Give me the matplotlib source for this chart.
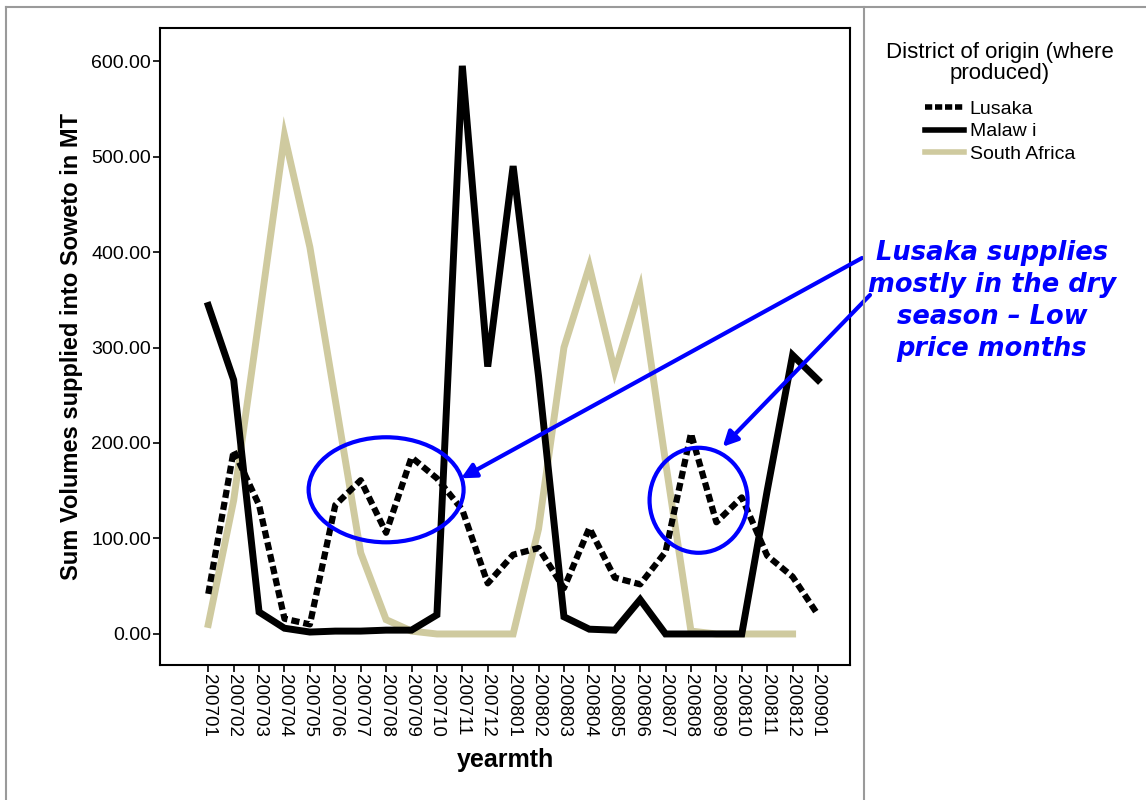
import matplotlib.pyplot as plt
from matplotlib.patches import Ellipse
from matplotlib.lines import Line2D

# monthly volumes (MT) by district of origin
months = ['200701', '200702', '200703', '200704', '200705', '200706', '200707',
          '200708', '200709', '200710', '200711', '200712', '200801', '200802',
          '200803', '200804', '200805', '200806', '200807', '200808', '200809',
          '200810', '200811', '200812', '200901']
lusaka = [42, 192, 135, 16, 10, 135, 161, 106, 185, 163, 130, 53, 83, 90,
          48, 111, 59, 52, 86, 210, 117, 143, 82, 60, 20]
malawi = [344, 266, 23, 6, 2, 3, 3, 4, 4, 20, 595, 280, 490, 270,
          18, 5, 4, 36, 0, 0, 0, 0, 150, 292, 266]
south_africa = [10, 140, 330, 522, 405, 245, 85, 15, 3, 0, 0, 0, 0, 110,
                300, 385, 275, 362, 180, 3, 0, 0, 0, 0]
yticks = [0, 100, 200, 300, 400, 500, 600]

plt.rcParams['font.family'] = ['Liberation Sans', 'DejaVu Sans']

fig = plt.figure(figsize=(11.46, 8), dpi=100)
ax = fig.add_axes([160 / 1146, 135 / 800, 690 / 1146, 637 / 800])

x = list(range(len(months)))
khaki = '#CFCA9F'
ax.plot(x, lusaka, color='black', lw=4.5, linestyle=(0, (1.3, 0.65)),
        dash_capstyle='butt', solid_joinstyle='miter', label='Lusaka', zorder=3)
ax.plot(x, malawi, color='black', lw=5, solid_joinstyle='miter',
        label='Malaw i', zorder=2)
ax.plot(x[:len(south_africa)], south_africa, color=khaki, lw=5,
        solid_joinstyle='miter', label='South Africa', zorder=1)

ax.set_xlim(-1.9, 25.26)
ax.set_ylim(-32.5, 634.6)
ax.set_xticks(x)
ax.set_xticklabels(months, rotation=270, fontsize=13.5)
ax.set_yticks(yticks)
ax.set_yticklabels(['%.2f' % v for v in yticks], fontsize=14)
ax.tick_params(direction='out', length=5, width=1.2, color='black', pad=1.5)
for s in ax.spines.values():
    s.set_linewidth(1.5)
    s.set_color('black')

ax.set_ylabel('Sum Volumes supplied into Soweto in MT', fontsize=17,
              fontweight='bold', labelpad=6)
ax.set_xlabel('yearmth', fontsize=18, fontweight='bold', labelpad=8)

# legend outside the plot area on the right
handles = [Line2D([], [], color='black', lw=4, linestyle=(0, (1.3, 0.5))),
           Line2D([], [], color='black', lw=4),
           Line2D([], [], color=khaki, lw=4)]
leg = fig.legend(handles, ['Lusaka', 'Malaw i', 'South Africa'],
                 title='District of origin (where\nproduced)',
                 loc='upper center', bbox_to_anchor=(1000 / 1146, 1 - 28 / 800),
                 frameon=False, fontsize=14, title_fontsize=16,
                 handlelength=2.0, handletextpad=0.3, labelspacing=0.25,
                 borderpad=0.2, alignment='center')
leg.get_title().set_ha('center')
leg.get_title().set_multialignment('center')
leg.get_title().set_linespacing(1.0)
leg._legend_box.sep = 12

# callouts around the dry-season Lusaka peaks
blue = '#0000FF'
ax.add_patch(Ellipse((7.0, 151), 6.1, 110, fill=False, edgecolor=blue,
                     lw=3, zorder=5, clip_on=False))
ax.add_patch(Ellipse((19.3, 140), 3.86, 110, fill=False, edgecolor=blue,
                     lw=3, zorder=5, clip_on=False))
ax.annotate('', xy=(9.95, 163), xycoords='data',
            xytext=(862, 800 - 258), textcoords='figure pixels',
            arrowprops=dict(arrowstyle='-|>', color=blue, lw=3,
                            mutation_scale=22, shrinkA=0, shrinkB=0),
            zorder=6, annotation_clip=False)
ax.annotate('', xy=(20.25, 196), xycoords='data',
            xytext=(870, 800 - 295), textcoords='figure pixels',
            arrowprops=dict(arrowstyle='-|>', color=blue, lw=3,
                            mutation_scale=22, shrinkA=0, shrinkB=0),
            zorder=6, annotation_clip=False)
fig.text(992 / 1146, 1 - 301 / 800,
         'Lusaka supplies\nmostly in the dry\nseason \u2013 Low\nprice months',
         ha='center', va='center', color=blue, fontsize=18.5,
         fontweight='bold', fontstyle='italic', family='DejaVu Sans',
         linespacing=1.3)

# outer chart frame
frame = dict(color='#9a9a9a', lw=1.5, transform=fig.transFigure)
fig.add_artist(Line2D([6 / 1146, 1], [1 - 7 / 800, 1 - 7 / 800], **frame))
fig.add_artist(Line2D([6 / 1146, 6 / 1146], [0, 1 - 7 / 800], **frame))
fig.add_artist(Line2D([864 / 1146, 864 / 1146], [0, 1 - 7 / 800], **frame))

fig.savefig('out.png', dpi=100)
